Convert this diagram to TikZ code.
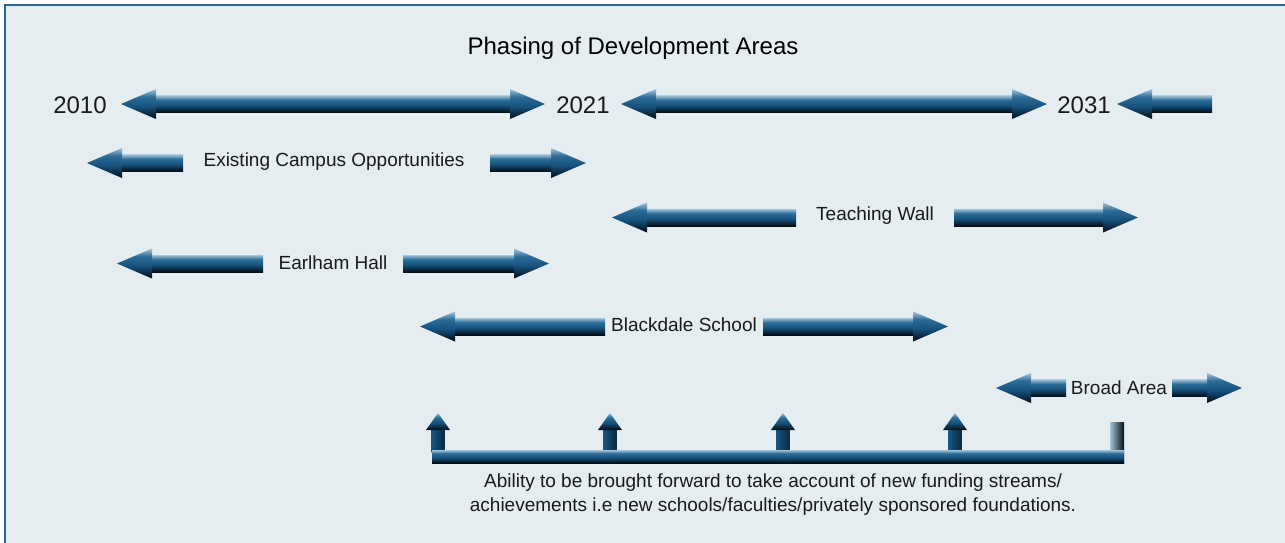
\documentclass[tikz,border=0pt]{standalone}
\usepackage{fontspec}
\setmainfont{Liberation Sans}

% Define colours
\definecolor{bgblue}{HTML}{E5EDF1}
\definecolor{framecol}{HTML}{2A6794}
\definecolor{arrlight}{HTML}{A3C3D8}
\definecolor{arrmid}{HTML}{2C6C96}
\definecolor{arrblue}{HTML}{175480}
\definecolor{arrnavy}{HTML}{0A2A42}
\definecolor{arrdark}{HTML}{020E17}
\definecolor{txtcol}{HTML}{1A1A1A}

% shading for the block arrows (path spans 25bp to 75bp)
\pgfdeclareverticalshading{arrowshading}{100bp}{%
	color(0bp)=(arrdark); color(25bp)=(arrdark); color(34bp)=(arrnavy);
	color(47bp)=(arrblue); color(62bp)=(arrmid); color(75bp)=(arrlight);
	color(100bp)=(arrlight)}

% block arrow pieces: back x, tip x, centre y
\newcommand{\blockR}[3]{%
	\shade[shading=arrowshading] (#2-35,#3-15) -- (#2,#3) -- (#2-35,#3+15) -- cycle;
	\shade[shading=arrowshading] (#1,#3-8.5) rectangle (#2-35,#3+8.5);
}
\newcommand{\blockL}[3]{%
	\shade[shading=arrowshading] (#2+35,#3-15) -- (#2,#3) -- (#2+35,#3+15) -- cycle;
	\shade[shading=arrowshading] (#2+35,#3-8.5) rectangle (#1,#3+8.5);
}
% upward arrow: centre x, tip y, foot y
\newcommand{\blockU}[3]{%
	\shade[upshaftshade] (#1-6.5,#2+16) rectangle (#1+6.5,#3);
	\shade[shading=arrowshading] (#1-12,#2+17) -- (#1,#2) -- (#1+12,#2+17) -- cycle;
}

\begin{document}
\begin{tikzpicture}[x=1pt,y=-1pt,
	upshaftshade/.style={left color=arrblue, middle color=arrmid, right color=arrnavy},
	postshade/.style={left color=arrlight, middle color=arrblue, right color=arrdark},
	lbl/.style={font=\fontsize{19}{24}\selectfont, text=txtcol},
	year/.style={font=\fontsize{24}{28}\selectfont, text=txtcol}]

	\useasboundingbox (0,0) rectangle (1285,542);
	\clip (0,0) rectangle (1285,542);

	% Background and frame
	\fill[white] (0,0) rectangle (1285,542);
	\fill[bgblue] (5,5) rectangle (1300,560);
	\draw[framecol, line width=2.2] (5,5) rectangle (1300,560);

	% Title
	\node[year, text=black] (title) at (633,48) {Phasing of Development Areas};

	% Years and time arrows
	\node[year] (y2010) at (80,105) {2010};
	\node[year] (y2021) at (583,105) {2021};
	\node[year] (y2031) at (1084,105) {2031};
	\blockL{333}{121}{104}
	\blockR{333}{545}{104}
	\blockL{834}{621}{104}
	\blockR{834}{1047}{104}
	\blockL{1212}{1117}{104}

	% Existing Campus Opportunities
	\node[lbl] (campus) at (334,162) {Existing Campus Opportunities};
	\blockL{183}{87}{163}
	\blockR{490}{586}{163}

	% Teaching Wall
	\node[lbl] (teach) at (875,216) {Teaching Wall};
	\blockL{796}{612}{217.5}
	\blockR{954}{1138}{217.5}

	% Earlham Hall
	\node[lbl] (earlham) at (333,263) {Earlham Hall};
	\blockL{263}{117}{263.5}
	\blockR{403}{549}{263.5}

	% Blackdale School
	\node[lbl] (blackdale) at (684,325) {Blackdale School};
	\blockL{605}{420}{326.5}
	\blockR{763}{948}{326.5}

	% Broad Area
	\node[lbl] (broad) at (1119,388) {Broad Area};
	\blockL{1066}{996}{388}
	\blockR{1172}{1242}{388}

	% Bring-forward bracket
	\blockU{438}{413}{452}
	\blockU{610}{413}{452}
	\blockU{783}{413}{452}
	\blockU{955}{413}{452}
	\shade[postshade] (1110,422) rectangle (1124,463);
	\shade[shading=arrowshading] (432,450) rectangle (1124,463);

	\node[lbl, align=center] (note) at (773,495)
		{Ability to be brought forward to take account of new funding streams/\\
		achievements i.e new schools/faculties/privately sponsored foundations.};
\end{tikzpicture}
\end{document}
